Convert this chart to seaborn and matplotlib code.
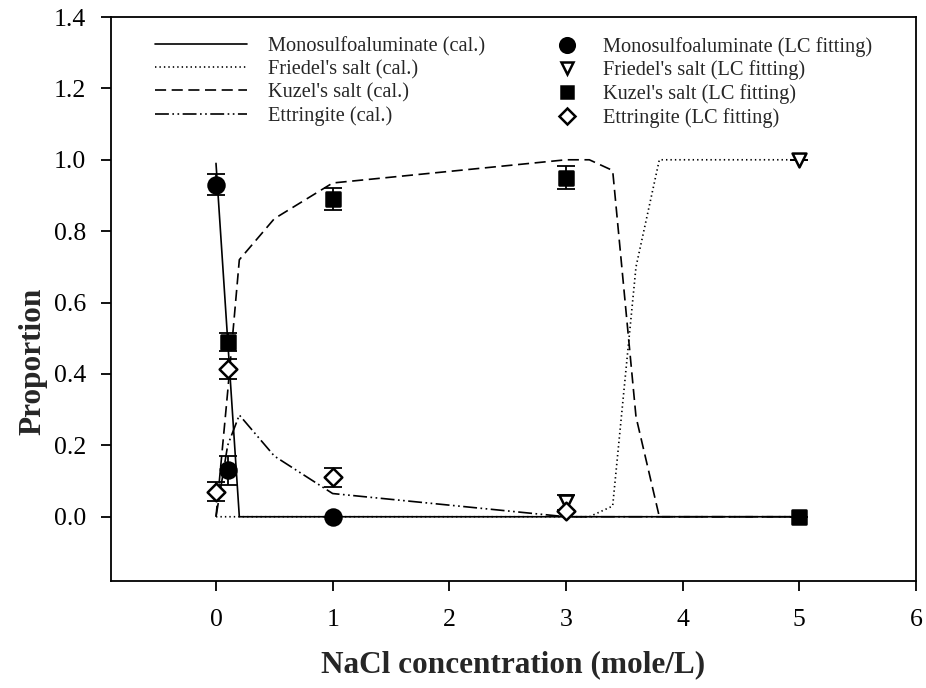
import matplotlib
matplotlib.use("Agg")
import matplotlib.pyplot as plt
from matplotlib.lines import Line2D
import seaborn as sns
import pandas as pd

# NaCl concentration grid used for the calculated phase proportions
calc_x = [0, 0.1, 0.2, 0.5, 1, 3, 3.2, 3.4, 3.6, 3.8, 5]
mono_cal = [0.99, 0.495, 0, 0, 0, 0, 0, 0, 0, 0, 0]
friedel_cal = [0, 0, 0, 0, 0, 0, 0, 0.03, 0.70, 1.0, 1.0]
kuzel_cal = [0, 0.35, 0.72, 0.835, 0.935, 1.0, 1.0, 0.97, 0.28, 0, 0]
ettr_cal = [0, 0.2, 0.285, 0.17, 0.065, 0, 0, 0, 0, 0, 0]

# LC fitting results with their uncertainties
mono_x = [0, 0.1, 1]
mono_y = [0.93, 0.13, 0.0]
mono_err = [0.03, 0.04, 0.0]

friedel_x = [3, 5]
friedel_y = [0.04, 1.0]
friedel_err = [0.02, 0.0]

kuzel_x = [0.1, 1, 3, 5]
kuzel_y = [0.49, 0.89, 0.95, 0.0]
kuzel_err = [0.025, 0.03, 0.033, 0.0]

ettr_x = [0, 0.1, 1, 3]
ettr_y = [0.07, 0.415, 0.11, 0.015]
ettr_err = [0.027, 0.028, 0.027, 0.0]

x_ticks = [0, 1, 2, 3, 4, 5, 6]
y_ticks = [0.0, 0.2, 0.4, 0.6, 0.8, 1.0, 1.2, 1.4]

sns.set_style("ticks")
plt.rcParams["font.family"] = ["Liberation Serif", "DejaVu Serif"]
plt.rcParams["lines.scale_dashes"] = False

fig = plt.figure(figsize=(9.26, 6.88), dpi=100)
ax = fig.add_axes([111 / 926, 1 - 581 / 688, (916 - 111) / 926, (581 - 17) / 688])

lw = 1.2
styles = {
    "Monosulfoaluminate (cal.)": (mono_cal, "-"),
    "Friedel's salt (cal.)": (friedel_cal, (0, (1.0, 2.2))),
    "Kuzel's salt (cal.)": (kuzel_cal, (0, (8, 4))),
    "Ettringite (cal.)": (ettr_cal, (0, (10, 2.5, 1.2, 2.5, 1.2, 2.5))),
}
line_handles = []
for name, (vals, ls) in styles.items():
    df = pd.DataFrame({"x": calc_x, "y": vals})
    sns.lineplot(data=df, x="x", y="y", ax=ax, color="black", lw=lw,
                 linestyle=ls, sort=False, estimator=None, zorder=2)
    line_handles.append(Line2D([], [], color="black", lw=lw, linestyle=ls, label=name))

points = [
    ("Monosulfoaluminate (LC fitting)", mono_x, mono_y, mono_err, "o", "black", 11.5),
    ("Friedel's salt (LC fitting)", friedel_x, friedel_y, friedel_err, "v", "white", 10),
    ("Kuzel's salt (LC fitting)", kuzel_x, kuzel_y, kuzel_err, "s", "black", 9.5),
    ("Ettringite (LC fitting)", ettr_x, ettr_y, ettr_err, "D", "white", 9),
]
marker_handles = []
for name, xs, ys, es, mk, fc, ms in points:
    ax.errorbar(xs, ys, yerr=es, fmt="none", ecolor="black", elinewidth=1.3,
                capsize=6.5, capthick=1.3, zorder=3)
    sns.scatterplot(x=xs, y=ys, ax=ax, marker=mk, s=ms ** 2, color=fc,
                    edgecolor="black", linewidth=1.8, zorder=4, legend=False)
    marker_handles.append(Line2D([], [], marker=mk, markersize=ms - 1, color="black",
                                 markerfacecolor=fc, markeredgecolor="black",
                                 markeredgewidth=1.8, linestyle="none", label=name))

ax.set_xlim(-0.9, 6)
ax.set_ylim(-0.18, 1.4)
ax.set_xticks(x_ticks)
ax.set_yticks(y_ticks)
ax.set_yticklabels([f"{v:.1f}" for v in y_ticks])
for s in ax.spines.values():
    s.set_linewidth(1.3)
    s.set_color("black")
ax.tick_params(axis="both", direction="out", length=7, width=1.3,
               labelsize=18.5, colors="black")
ax.tick_params(axis="x", pad=13)
ax.tick_params(axis="y", pad=11)

ax.set_xlabel("NaCl concentration (mole/L)", fontsize=22.5, fontweight="bold", labelpad=14)
ax.set_ylabel("Proportion", fontsize=22.5, fontweight="bold")
ax.yaxis.set_label_coords(-0.079, 0.39)

leg_font = 14.7
leg1 = fig.legend(handles=line_handles, loc="upper left",
                  bbox_to_anchor=(155 / 926, 1 - 37 / 688), frameon=False,
                  fontsize=leg_font, handlelength=4.5, handletextpad=1.03,
                  labelspacing=0.18, borderpad=0, borderaxespad=0)
leg2 = fig.legend(handles=marker_handles, loc="upper left",
                  bbox_to_anchor=(557 / 926, 1 - 37 / 688), frameon=False,
                  fontsize=leg_font, handlelength=1.0, handletextpad=1.25,
                  labelspacing=0.18, borderpad=0, borderaxespad=0)

fig.savefig("out.png", dpi=100)
